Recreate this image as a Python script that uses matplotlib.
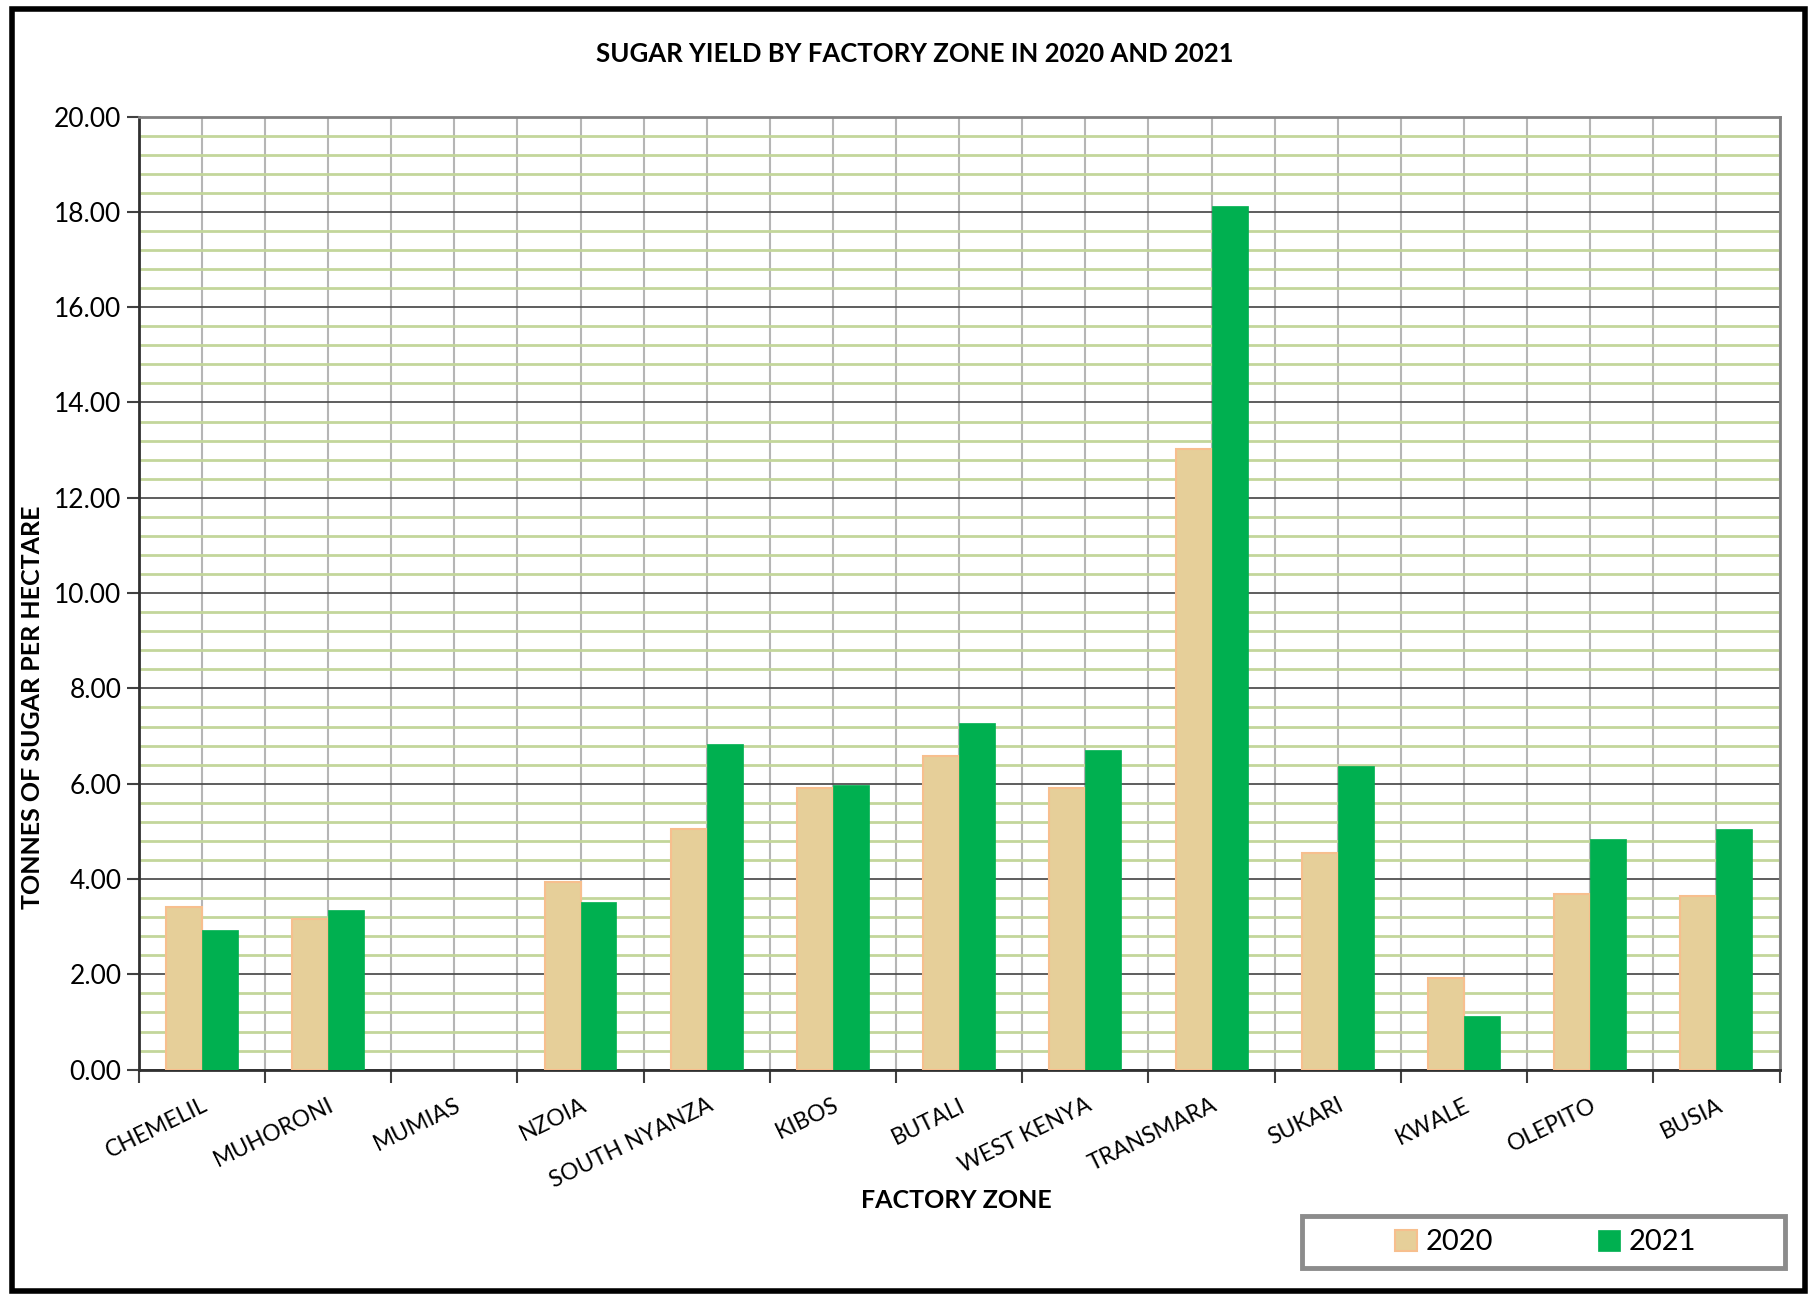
import matplotlib.pyplot as plt
import matplotlib.patches as patches
from matplotlib.ticker import MultipleLocator, FixedLocator
import numpy as np

zones = ['CHEMELIL', 'MUHORONI', 'MUMIAS', 'NZOIA', 'SOUTH NYANZA', 'KIBOS', 'BUTALI',
         'WEST KENYA', 'TRANSMARA', 'SUKARI', 'KWALE', 'OLEPITO', 'BUSIA']
yield_2020 = [3.42, 3.16, 0.0, 3.93, 5.05, 5.90, 6.58, 5.90, 13.03, 4.54, 1.92, 3.69, 3.64]
yield_2021 = [2.94, 3.35, 0.0, 3.52, 6.84, 5.97, 7.28, 6.70, 18.13, 6.38, 1.12, 4.83, 5.05]

plt.rcParams['font.family'] = ['Lato', 'DejaVu Sans']

fig = plt.figure(figsize=(18.14, 12.95), dpi=100)
ax = fig.add_axes([0.0765, 0.174, 0.9045, 0.736])

x = np.arange(len(zones))
w = 0.285
tan = '#e6cf99'
green = '#00b050'
lw20 = [1.5 if v > 0 else 0 for v in yield_2020]
lw21 = [0.5 if v > 0 else 0 for v in yield_2021]
ax.bar(x - w / 2, yield_2020, w, color=tan, edgecolor='#f7bf8e', linewidth=lw20, label='2020', zorder=3)
ax.bar(x + w / 2, yield_2021, w, color=green, edgecolor=green, linewidth=lw21, label='2021', zorder=3)

ax.set_xlim(-0.5, len(zones) - 0.5)
ax.set_ylim(0, 20)
ax.yaxis.set_major_locator(MultipleLocator(2))
ax.yaxis.set_minor_locator(MultipleLocator(0.4))
ax.yaxis.set_major_formatter(lambda v, p: f'{v:.2f}')

ax.set_xticks(x)
ax.set_xticklabels(zones, rotation=26, ha='right', rotation_mode='anchor', fontsize=16.5)
ax.xaxis.set_minor_locator(FixedLocator(np.arange(-0.5, len(zones), 1.0)))
ax.tick_params(axis='x', which='major', length=0, pad=18)
ax.tick_params(axis='x', which='minor', length=9, width=1.5, color='#404040', direction='out')
ax.tick_params(axis='y', which='major', length=9, width=1.5, color='#404040', labelsize=19)
ax.tick_params(axis='y', which='minor', length=0)

ax.grid(axis='y', which='major', color='#505050', linewidth=1.3, zorder=1)
ax.grid(axis='y', which='minor', color='#c3d69b', linewidth=2, zorder=0)
ax.grid(axis='x', which='both', color='#b5b5b5', linewidth=1.5, zorder=1)
ax.set_axisbelow(True)

for s in ['left', 'bottom']:
    ax.spines[s].set_color('#303030')
    ax.spines[s].set_linewidth(2)
for s in ['top', 'right']:
    ax.spines[s].set_color('#808080')
    ax.spines[s].set_linewidth(2)

fig.text(0.504, 0.958, 'SUGAR YIELD BY FACTORY ZONE IN 2020 AND 2021', ha='center', va='center',
         fontsize=18.5, fontweight='bold')
fig.text(0.527, 0.073, 'FACTORY ZONE', ha='center', va='center', fontsize=18, fontweight='bold')
fig.text(0.018, 0.454, 'TONNES OF SUGAR PER HECTARE', ha='center', va='center', rotation=90,
         fontsize=18, fontweight='bold')

# legend box drawn separately so it can be wider than its entries
fig.patches.append(patches.Rectangle((0.7175, 0.0205), 0.2665, 0.0402, transform=fig.transFigure,
                                     fill=False, edgecolor='#8c8c8c', linewidth=3.5))
fig.legend(loc='center', bbox_to_anchor=(0.852, 0.0406), ncol=2, fontsize=21,
           frameon=False, columnspacing=3.6, handlelength=0.75,
           handleheight=0.75, handletextpad=0.3)

fig.patches.append(patches.Rectangle((0.0064, 0.003), 0.9886, 0.99, transform=fig.transFigure,
                                     fill=False, edgecolor='black', linewidth=4))

fig.savefig('out.png', dpi=100)
